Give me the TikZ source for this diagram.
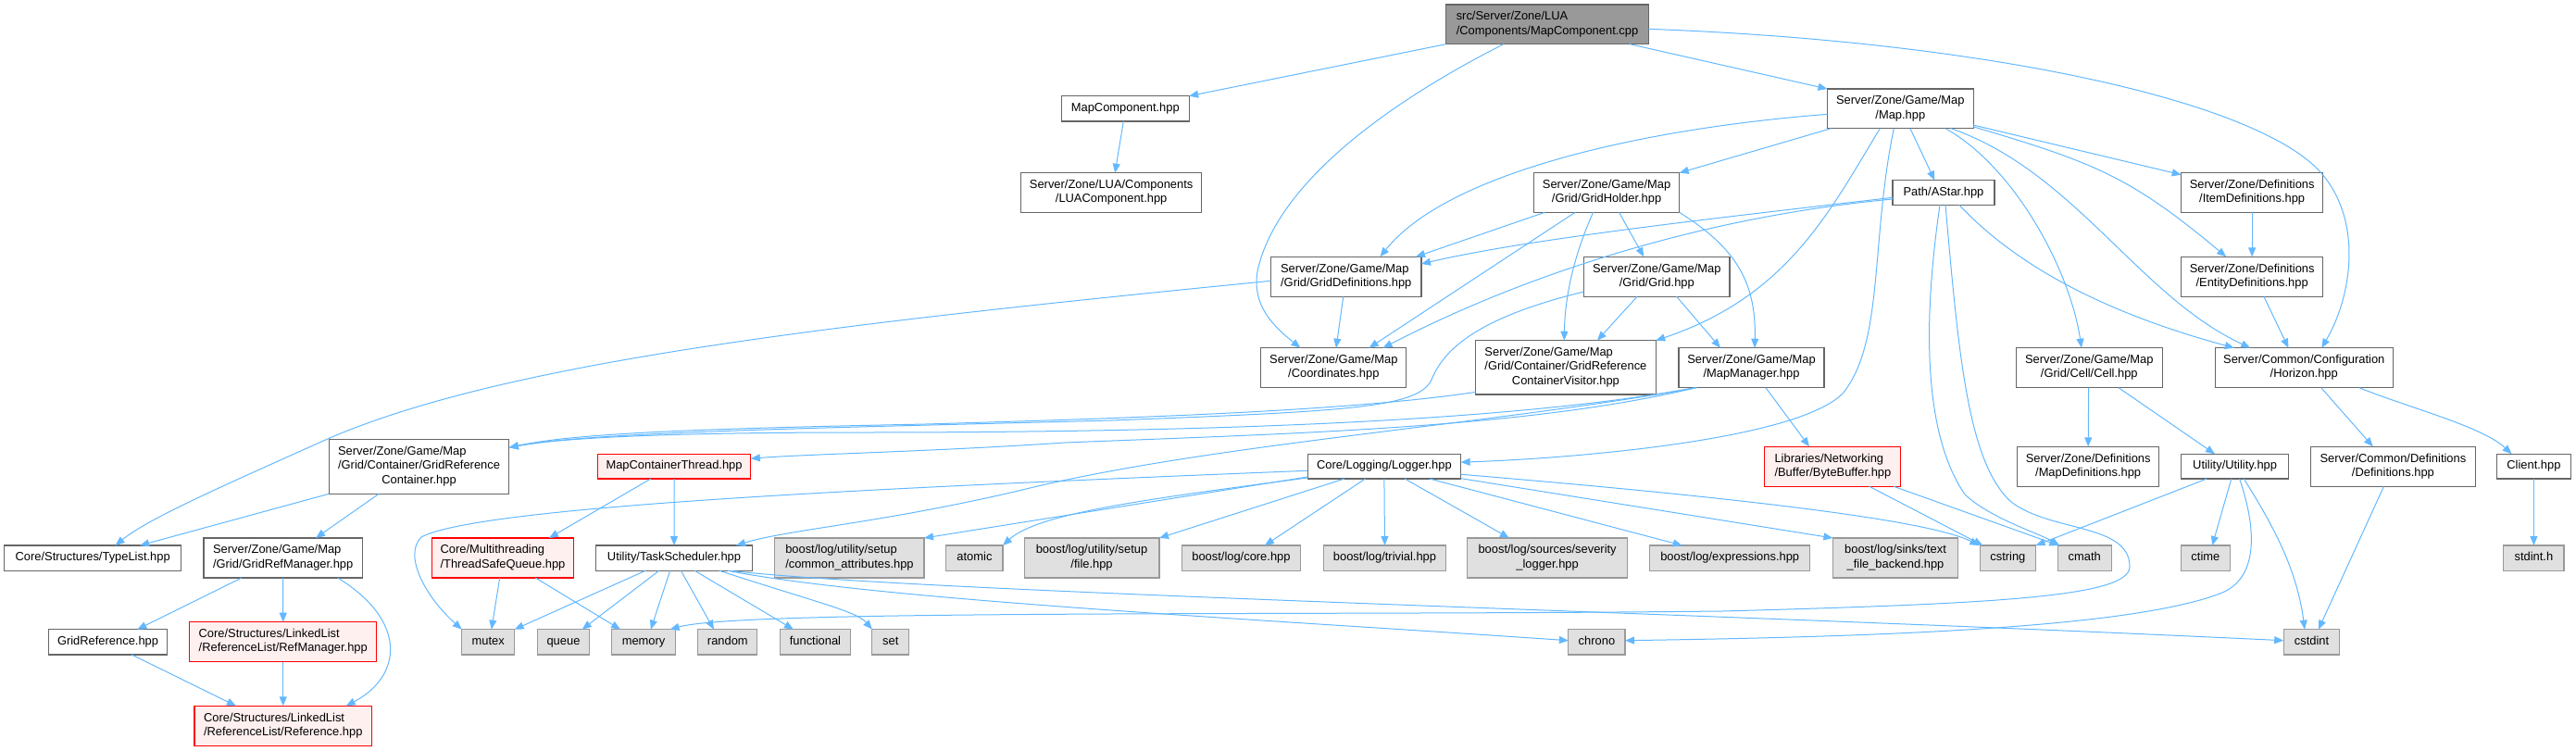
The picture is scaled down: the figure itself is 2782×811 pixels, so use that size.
\documentclass[tikz,border=0pt]{standalone}
\usepackage{fontspec}
\setmainfont{Liberation Sans}
\usetikzlibrary{arrows.meta}
\definecolor{nodegray}{HTML}{666666}
\definecolor{extgray}{HTML}{999999}
\definecolor{extfill}{HTML}{E0E0E0}
\definecolor{redfill}{HTML}{FFF0F0}
\definecolor{mainfill}{HTML}{999999}
\definecolor{edgeblue}{HTML}{63B8FF}
\newcommand\onel[1]{\begin{tabular}{@{}c@{}}#1\end{tabular}}
\newcommand\twol[2]{\begin{tabular}{@{}l@{}}#1\\\multicolumn{1}{@{}c@{}}{#2}\end{tabular}}
\newcommand\threel[3]{\begin{tabular}{@{}l@{}}#1\\#2\\\multicolumn{1}{@{}c@{}}{#3}\end{tabular}}
\tikzset{
 nbase/.style={draw, line width=1.1pt, inner sep=0pt, outer sep=0pt, font=\fontsize{12.9}{15.3}\selectfont},
 wn/.style={nbase, draw=nodegray, fill=white},
 gn/.style={nbase, draw=extgray, fill=extfill},
 rn/.style={nbase, draw=red, fill=redfill},
 mn/.style={nbase, draw=nodegray, fill=mainfill},
 sz/.style 2 args={minimum width=#1pt, minimum height=#2pt},
 edgeline/.style={draw=edgeblue, line width=1pt, -{Triangle[length=10pt,width=8pt]}},
}
\begin{document}
\begin{tikzpicture}[x=1pt,y=-1pt]
\useasboundingbox (0,0) rectangle (2782,811);
% nodes
\node[mn, sz={218.6}{42.7}] (main) at (1671,26.3) {\twol{src/Server/Zone/LUA}{/Components/MapComponent.cpp}};
\node[wn, sz={137.6}{27.3}] (mapcomp) at (1215.3,117.35) {\onel{MapComponent.hpp}};
\node[wn, sz={195.1}{42.6}] (luacomp) at (1200.15,208) {\twol{Server/Zone/LUA/Components}{/LUAComponent.hpp}};
\node[wn, sz={157.6}{42.7}] (map) at (2052.3,117.35) {\twol{Server/Zone/Game/Map}{/Map.hpp}};
\node[wn, sz={157.2}{42.6}] (gridholder) at (1735.1,208) {\twol{Server/Zone/Game/Map}{/Grid/GridHolder.hpp}};
\node[wn, sz={110}{26.6}] (astar) at (2099,208) {\onel{Path/AStar.hpp}};
\node[wn, sz={152.9}{42.6}] (itemdef) at (2432.15,208) {\twol{Server/Zone/Definitions}{/ItemDefinitions.hpp}};
\node[wn, sz={162.5}{43}] (griddef) at (1453.75,298.8) {\twol{Server/Zone/Game/Map}{/Grid/GridDefinitions.hpp}};
\node[wn, sz={157.5}{43}] (grid) at (1789.25,298.8) {\twol{Server/Zone/Game/Map}{/Grid/Grid.hpp}};
\node[wn, sz={152.9}{43}] (entitydef) at (2432.15,298.8) {\twol{Server/Zone/Definitions}{/EntityDefinitions.hpp}};
\node[wn, sz={157.1}{43}] (coords) at (1440.35,397.2) {\twol{Server/Zone/Game/Map}{/Coordinates.hpp}};
\node[wn, sz={194.5}{58.3}] (grcv) at (1690.95,396.85) {\threel{Server/Zone/Game/Map}{/Grid/Container/GridReference}{ContainerVisitor.hpp}};
\node[wn, sz={157}{43}] (mapmgr) at (1891.5,397.2) {\twol{Server/Zone/Game/Map}{/MapManager.hpp}};
\node[wn, sz={157.6}{43}] (cell) at (2256.3,397.2) {\twol{Server/Zone/Game/Map}{/Grid/Cell/Cell.hpp}};
\node[wn, sz={192.3}{43}] (horizon) at (2488.25,397.2) {\twol{Server/Common/Configuration}{/Horizon.hpp}};
\node[wn, sz={194.5}{59}] (grc) at (452.55,503.8) {\threel{Server/Zone/Game/Map}{/Grid/Container/GridReference}{Container.hpp}};
\node[rn, sz={165.5}{26.7}] (mct) at (728.05,503.65) {\onel{MapContainerThread.hpp}};
\node[wn, sz={165.4}{26.7}] (logger) at (1494.9,503.65) {\onel{Core/Logging/Logger.hpp}};
\node[rn, sz={147}{43}] (bytebuf) at (1979.4,503.8) {\twol{Libraries/Networking}{/Buffer/ByteBuffer.hpp}};
\node[wn, sz={152.9}{43}] (mapdefs) at (2255.15,503.8) {\twol{Server/Zone/Definitions}{/MapDefinitions.hpp}};
\node[wn, sz={115.8}{26.7}] (utility) at (2413.6,503.65) {\onel{Utility/Utility.hpp}};
\node[wn, sz={177.6}{43}] (commondefs) at (2584.4,503.8) {\twol{Server/Common/Definitions}{/Definitions.hpp}};
\node[wn, sz={79.4}{26.7}] (client) at (2736.4,503.65) {\onel{Client.hpp}};
\node[wn, sz={191}{27.3}] (typelist) at (100.2,602.65) {\onel{Core/Structures/TypeList.hpp}};
\node[wn, sz={171.4}{43}] (gridrefmgr) at (305.7,602.5) {\twol{Server/Zone/Game/Map}{/Grid/GridRefManager.hpp}};
\node[rn, sz={153.6}{43}] (tsq) at (543,602.5) {\twol{Core/Multithreading}{/ThreadSafeQueue.hpp}};
\node[wn, sz={169}{27.3}] (tasksched) at (728,602.65) {\onel{Utility/TaskScheduler.hpp}};
\node[gn, sz={161.1}{43}] (commonattr) at (917.45,602.5) {\twol{boost/log/utility/setup}{/common\_attributes.hpp}};
\node[gn, sz={61.1}{27.3}] (atomic) at (1052.45,602.65) {\onel{atomic}};
\node[gn, sz={145.9}{43}] (filehpp) at (1179.05,602.5) {\twol{boost/log/utility/setup}{/file.hpp}};
\node[gn, sz={128.1}{27.3}] (core) at (1340.45,602.65) {\onel{boost/log/core.hpp}};
\node[gn, sz={132.2}{27.3}] (trivial) at (1495.5,602.65) {\onel{boost/log/trivial.hpp}};
\node[gn, sz={172.6}{43}] (severity) at (1671.1,602.5) {\twol{boost/log/sources/severity}{\_logger.hpp}};
\node[gn, sz={173}{27.3}] (expressions) at (1868.2,602.65) {\onel{boost/log/expressions.hpp}};
\node[gn, sz={135.2}{43}] (textfile) at (2047,602.5) {\twol{boost/log/sinks/text}{\_file\_backend.hpp}};
\node[gn, sz={60.4}{27.3}] (cstring) at (2168.4,602.65) {\onel{cstring}};
\node[gn, sz={57.7}{27.3}] (cmath) at (2251.2,602.65) {\onel{cmath}};
\node[gn, sz={53.5}{27.3}] (ctime) at (2381.85,602.65) {\onel{ctime}};
\node[gn, sz={65.2}{27.3}] (stdint) at (2736.4,602.65) {\onel{stdint.h}};
\node[wn, sz={128.7}{27.3}] (gridref) at (116.55,693.35) {\onel{GridReference.hpp}};
\node[rn, sz={202.3}{43}] (refmgr) at (305.75,693.2) {\twol{Core/Structures/LinkedList}{/ReferenceList/RefManager.hpp}};
\node[gn, sz={56.9}{27.3}] (mutex) at (527.25,693.35) {\onel{mutex}};
\node[gn, sz={55.8}{27.3}] (queue) at (608.5,693.35) {\onel{queue}};
\node[gn, sz={68.8}{27.3}] (memory) at (695.1,693.35) {\onel{memory}};
\node[gn, sz={64.1}{27.3}] (random) at (785.85,693.35) {\onel{random}};
\node[gn, sz={76.5}{27.3}] (functional) at (880.45,693.35) {\onel{functional}};
\node[gn, sz={39.7}{27.3}] (set) at (961.75,693.35) {\onel{set}};
\node[gn, sz={61.1}{27.3}] (chrono) at (1724.45,693.35) {\onel{chrono}};
\node[gn, sz={60.6}{27.3}] (cstdint) at (2496.5,693.35) {\onel{cstdint}};
\node[rn, sz={191.5}{43}] (reference) at (305.75,783.8) {\twol{Core/Structures/LinkedList}{/ReferenceList/Reference.hpp}};
% main
\draw[edgeline] (main.south west) -- (mapcomp.north east);
\draw[edgeline] ([xshift=-47pt]main.south) .. controls (1520,100) and (1380,190) .. (1358,293) .. controls (1352,330) and (1375,352) .. ([xshift=-36pt]coords.north);
\draw[edgeline] ([xshift=89pt]main.south) -- (map.north west);
\draw[edgeline] ([yshift=-5pt]main.east) .. controls (2150,45) and (2440,110) .. (2507,187) .. controls (2552,239) and (2540,320) .. ([xshift=19pt]horizon.north);
\draw[edgeline] ([xshift=-2pt]mapcomp.south) -- ([xshift=4pt]luacomp.north);
% map
\draw[edgeline] ([yshift=-6pt]map.west) .. controls (1760,140) and (1560,190) .. ([xshift=36.7pt]griddef.north);
\draw[edgeline] ([xshift=4pt]map.south west) -- (gridholder.north east);
\draw[edgeline] ([xshift=-22pt]map.south) .. controls (1975,230) and (1930,320) .. (grcv.north east);
\draw[edgeline] ([xshift=-7pt]map.south) .. controls (2020,260) and (2035,370) .. (1990,425) .. controls (1940,475) and (1700,495) .. ([yshift=4.5pt]logger.east);
\draw[edgeline] ([xshift=10.6pt]map.south) -- ([xshift=-9.7pt]astar.north);
\draw[edgeline] ([xshift=48.7pt]map.south) .. controls (2175,180) and (2235,290) .. ([xshift=-8.3pt]cell.north);
\draw[edgeline] ([xshift=54.7pt]map.south) .. controls (2240,185) and (2310,320) .. ([xshift=-58pt]horizon.north);
\draw[edgeline] ([yshift=-17.7pt]map.east) -- ([yshift=-2pt]itemdef.north west);
\draw[edgeline] ([yshift=-19.5pt]map.east) .. controls (2260,175) and (2300,190) .. ([xshift=-28pt]entitydef.north);
% astar
\draw[edgeline] ([yshift=-5.3pt]astar.west) .. controls (1850,236) and (1650,258) .. ([yshift=13.8pt]griddef.east);
\draw[edgeline] ([yshift=-7pt]astar.west) .. controls (1830,235) and (1640,300) .. ([xshift=53.2pt]coords.north);
\draw[edgeline] ([xshift=-4pt]astar.south) .. controls (2072,380) and (2085,480) .. (2122,534) .. controls (2150,560) and (2200,575) .. ([xshift=-27pt]cmath.north);
\draw[edgeline] ([xshift=2pt]astar.south) .. controls (2115,380) and (2125,500) .. (2172,542) .. controls (2215,575) and (2300,565) .. (2300,612) .. controls (2300,645) and (2150,652) .. (1860,660) .. controls (1400,665) and (800,658) .. ([xshift=28.5pt]memory.north);
\draw[edgeline] ([xshift=16.8pt]astar.south) .. controls (2190,300) and (2300,345) .. ([xshift=-75.5pt]horizon.north);
% gridholder
\draw[edgeline] ([xshift=-66.7pt]gridholder.south) -- ([xshift=-6pt]griddef.north east);
\draw[edgeline] ([xshift=-34pt]gridholder.south) -- ([xshift=38.2pt]coords.north);
\draw[edgeline] ([xshift=-14.5pt]gridholder.south) .. controls (1700,275) and (1690,320) .. ([xshift=-1.7pt]grcv.north);
\draw[edgeline] ([xshift=13.4pt]gridholder.south) -- ([xshift=-14pt]grid.north);
\draw[edgeline] (gridholder.south east) .. controls (1870,265) and (1897,300) .. ([xshift=3.5pt]mapmgr.north);
% grid
\draw[edgeline] ([xshift=-21.2pt]grid.south) -- ([xshift=34pt]grcv.north);
\draw[edgeline] ([xshift=21.5pt]grid.south) -- ([xshift=-33.5pt]mapmgr.north);
\draw[edgeline] ([yshift=-16.2pt]grid.west) .. controls (1600,342) and (1560,375) .. (1546,410) .. controls (1532,440) and (1460,444) .. (1200,454) .. controls (900,462) and (640,466) .. ([yshift=20.5pt]grc.east);
\draw[edgeline] ([yshift=-26.5pt]grcv.west) .. controls (1450,445) and (1200,452) .. (1000,458) .. controls (750,463) and (620,468) .. ([yshift=20.5pt]grc.east);
% mapmgr
\draw[edgeline] ([xshift=-61.5pt]mapmgr.south) .. controls (1650,452) and (1350,467) .. (930,467) .. controls (700,467) and (600,474) .. ([yshift=20.5pt]grc.east);
\draw[edgeline] ([xshift=-60pt]mapmgr.south) .. controls (1650,462) and (1400,468) .. (1150,478) .. controls (1000,488) and (880,490) .. ([yshift=8.5pt]mct.east);
\draw[edgeline] ([xshift=-59pt]mapmgr.south) .. controls (1600,460) and (1300,480) .. (1100,530) .. controls (950,565) and (850,572) .. ([xshift=67pt]tasksched.north);
\draw[edgeline] ([xshift=15.5pt]mapmgr.south) -- ([xshift=-25.4pt]bytebuf.north);
% griddef
\draw[edgeline] ([yshift=-4.5pt]griddef.west) .. controls (900,350) and (550,390) .. (356,473) .. controls (240,525) and (160,560) .. ([xshift=24.4pt]typelist.north);
\draw[edgeline] ([xshift=-3pt]griddef.south) -- ([xshift=2.6pt]coords.north);
\draw[edgeline] (itemdef.south) -- (entitydef.north);
\draw[edgeline] ([xshift=12.8pt]entitydef.south) -- ([xshift=-16.8pt]horizon.north);
% cell
\draw[edgeline] ([xshift=-0.6pt]cell.south) -- (mapdefs.north);
\draw[edgeline] ([xshift=31.7pt]cell.south) -- ([xshift=-21.6pt]utility.north);
% horizon
\draw[edgeline] ([xshift=18.5pt]horizon.south) -- ([xshift=-21.7pt]commondefs.north);
\draw[edgeline] ([xshift=59.7pt]horizon.south) .. controls (2600,440) and (2680,460) .. ([xshift=-23.8pt]client.north);
\draw[edgeline] (client.south) -- (stdint.north);
\draw[edgeline] ([xshift=-10pt]commondefs.south) -- ([xshift=7.4pt]cstdint.north);
% utility
\draw[edgeline] ([xshift=-30.3pt]utility.south) -- (cstring.north east);
\draw[edgeline] ([xshift=-3.8pt]utility.south) -- ([xshift=7.3pt]ctime.north);
\draw[edgeline] ([xshift=9.7pt]utility.south) .. controls (2450,560) and (2480,610) .. ([xshift=-7.5pt]cstdint.north);
\draw[edgeline] ([xshift=5pt]utility.south) .. controls (2440,580) and (2435,625) .. (2400,640) .. controls (2300,680) and (2000,688) .. ([yshift=1.65pt]chrono.east);
% bytebuf
\draw[edgeline] ([xshift=39.4pt]bytebuf.south) -- ([xshift=-27pt]cstring.north);
\draw[edgeline] ([xshift=65.8pt]bytebuf.south) -- ([xshift=-28pt]cmath.north);
% logger
\draw[edgeline] ([yshift=-4.6pt]logger.west) .. controls (1000,525) and (520,545) .. (455,580) .. controls (435,600) and (460,645) .. (mutex.north west);
\draw[edgeline] ([yshift=-11.3pt]logger.west) -- (commonattr.north east);
\draw[edgeline] ([yshift=-12.3pt]logger.west) .. controls (1230,540) and (1120,555) .. (atomic.north east);
\draw[edgeline] ([xshift=-43pt]logger.south) -- (filehpp.north east);
\draw[edgeline] ([xshift=-20.4pt]logger.south) -- ([xshift=25.4pt]core.north);
\draw[edgeline] (logger.south) -- (trivial.north);
\draw[edgeline] ([xshift=22.3pt]logger.south) -- ([xshift=-41.2pt]severity.north);
\draw[edgeline] ([xshift=49pt]logger.south) -- ([xshift=-51.5pt]expressions.north);
\draw[edgeline] ([yshift=-13pt]logger.east) -- (textfile.north west);
\draw[edgeline] ([yshift=-8.6pt]logger.east) .. controls (1850,535) and (2080,560) .. ([xshift=-31pt]cstring.north);
% tasksched
\draw[edgeline] ([xshift=-31pt]tasksched.south) -- (mutex.north east);
\draw[edgeline] ([xshift=-16.3pt]tasksched.south) -- ([xshift=20.2pt]queue.north);
\draw[edgeline] ([xshift=-4.4pt]tasksched.south) -- ([xshift=7.7pt]memory.north);
\draw[edgeline] ([xshift=7.4pt]tasksched.south) -- ([xshift=-14.9pt]random.north);
\draw[edgeline] ([xshift=22.3pt]tasksched.south) -- ([xshift=-23.5pt]functional.north);
\draw[edgeline] ([xshift=49pt]tasksched.south) .. controls (880,650) and (925,660) .. (set.north west);
\draw[edgeline] ([xshift=58pt]tasksched.south) .. controls (950,648) and (1350,668) .. ([yshift=1.65pt]chrono.west);
\draw[edgeline] ([xshift=60pt]tasksched.south) .. controls (1000,640) and (1800,660) .. ([yshift=1.65pt]cstdint.west);
% tsq
\draw[edgeline] ([xshift=-3.3pt]tsq.south) -- ([xshift=3.5pt]mutex.north);
\draw[edgeline] ([xshift=35.3pt]tsq.south) -- ([xshift=-25pt]memory.north);
% mct
\draw[edgeline] ([xshift=-25.2pt]mct.south) -- ([xshift=50pt]tsq.north);
\draw[edgeline] (mct.south) -- (tasksched.north);
% grc
\draw[edgeline] (grc.south west) -- ([xshift=51pt]typelist.north);
\draw[edgeline] ([xshift=-43.4pt]grc.south) -- ([xshift=35.3pt]gridrefmgr.north);
% gridrefmgr
\draw[edgeline] ([xshift=-44.7pt]gridrefmgr.south) -- ([xshift=31.7pt]gridref.north);
\draw[edgeline] (gridrefmgr.south) -- (refmgr.north);
\draw[edgeline] ([xshift=59pt]gridrefmgr.south) .. controls (440,670) and (435,730) .. ([xshift=68pt]reference.north);
\draw[edgeline] ([xshift=25.7pt]gridref.south) -- ([xshift=-50.8pt]reference.north);
\draw[edgeline] (refmgr.south) -- (reference.north);
\end{tikzpicture}
\end{document}
